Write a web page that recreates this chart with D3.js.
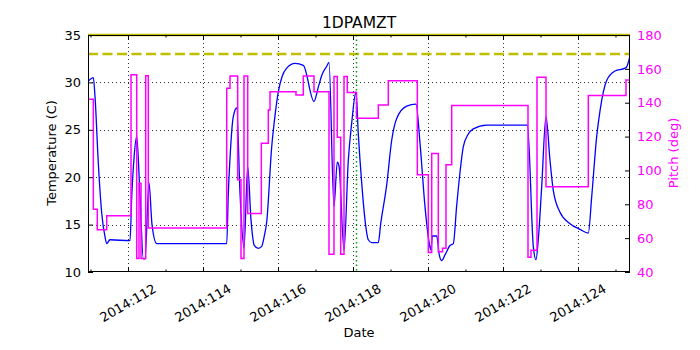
<!DOCTYPE html>
<html><head><meta charset="utf-8">
<script src="https://cdn.jsdelivr.net/npm/d3@7/dist/d3.min.js"></script>
<style>body{margin:0;background:#fff}svg{display:block;font-family:"DejaVu Sans",sans-serif}</style>
</head><body><svg id="c" width="700" height="350"></svg>
<script>
const chartTitle = "1DPAMZT";
const tempDays = [110.933,111.075,111.12,111.208,111.299,111.387,111.432,111.52,112.053,112.1,112.16,112.232,112.32,112.408,112.453,112.56,112.64,112.765,114.632,114.675,114.72,114.808,114.899,114.987,115.093,115.192,115.28,115.368,115.475,115.565,115.635,115.699,115.832,115.92,116.008,116.107,116.232,116.453,116.675,116.96,117.075,117.173,117.299,117.36,117.493,117.581,117.627,117.76,117.875,117.965,118.08,118.141,118.232,118.32,118.408,118.499,118.675,118.739,118.899,119.032,119.165,119.432,119.68,119.787,119.92,120.035,120.08,120.115,120.232,120.301,120.365,120.453,120.587,120.675,120.765,120.853,120.941,121.067,121.208,121.565,122.653,122.808,122.88,122.941,123.032,123.147,123.253,123.341,123.52,123.787,124.053,124.275,124.365,124.499,124.587,124.765,124.987,125.253,125.293,125.387];
const tempValues = [30.1,30.5,28.5,21.5,16.2,13.7,13.0,13.4,13.3,18,22,24.3,18,11.4,11.4,19.4,15,13.0,13.0,18.3,22,26.4,27.3,18.3,12.5,21.1,15.5,12.8,12.5,12.7,13.8,15.3,23.2,26.5,29.0,30.6,31.5,32.0,31.8,28.0,29.5,30.8,31.7,32.1,16.9,21.6,21.2,12.3,21.8,25.7,29.0,24.6,19.4,15.5,13.4,13.1,13.1,15.1,19.2,23.9,26.2,27.5,27.7,23.6,16.9,13.0,12.3,13.8,13.8,11.8,11.2,11.8,12.8,13.0,17,20.5,23.2,24.5,25.1,25.5,25.5,12.7,11.3,13.4,19.0,26.4,21.8,18.6,16.3,15.1,14.5,14.1,17.9,24.3,27.0,30.2,31.2,31.5,31.6,32.8];
const pitchDays = [110.933,111.075,111.181,111.432,112.08,112.232,112.293,112.347,112.472,112.541,114.632,114.72,114.925,115.013,115.093,115.192,115.555,115.741,115.787,116.48,116.675,116.96,117.36,117.493,117.581,117.672,117.76,117.848,118.093,118.675,118.941,119.715,120.008,120.099,120.275,120.387,120.48,120.632,122.667,122.747,122.907,123.147,124.275,125.28,125.387];
const pitchValues = [142,77,65,73.3,156.5,48,92.4,48,156,66,148.5,155.8,94.5,48,155.8,74.5,116,135.7,146.5,144.5,155.8,146.5,50.5,155.5,119.6,50.5,155.5,146,130.8,138.6,153,97.5,51.5,110,52,54,103.4,138.4,48.7,52.8,155,90.4,144.2,153.4,153.4];
const tempLimits = [35, 33];
const markerDay = 118.067;
const xMajorDays = [112,114,116,118,120,122,124];
const xMinorDays = [111,113,115,117,119,121,123,125];
const tempTicks = [10,15,20,25,30,35];
const pitchTicks = [40,60,80,100,120,140,160,180];

const svg = d3.select("#c");
const L=88,R=630,T=35,B=272;
const x = d3.scaleLinear().domain([110.933,125.387]).range([L,R]);
const y = d3.scaleLinear().domain([10,35]).range([B,T]);
const y2 = d3.scaleLinear().domain([40,180]).range([B,T]);

// grid
const g = svg.append("g");
g.selectAll(".vg").data(xMajorDays).enter().append("line")
  .attr("x1",d=>x(d)+0.5).attr("x2",d=>x(d)+0.5).attr("y1",T).attr("y2",B)
  .attr("stroke","#000").attr("stroke-width",0.8).attr("stroke-dasharray","1,3");
g.selectAll(".hg").data(tempTicks.slice(1,-1)).enter().append("line")
  .attr("y1",d=>Math.round(y(d))+0.5).attr("y2",d=>Math.round(y(d))+0.5).attr("x1",L).attr("x2",R)
  .attr("stroke","#000").attr("stroke-width",0.8).attr("stroke-dasharray","1,3");

svg.append("clipPath").attr("id","pc").append("rect").attr("x",L).attr("y",T-2).attr("width",R-L).attr("height",B-T+4);
const plot = svg.append("g").attr("clip-path","url(#pc)");

// limits
plot.append("line").attr("x1",L).attr("x2",R).attr("y1",y(tempLimits[0])).attr("y2",y(tempLimits[0]))
  .attr("stroke","#bfbf00").attr("stroke-width",2.6);
plot.append("line").attr("x1",L).attr("x2",R).attr("y1",y(tempLimits[1])).attr("y2",y(tempLimits[1]))
  .attr("stroke","#bfbf00").attr("stroke-width",2.6).attr("stroke-dasharray","10,4.5");

// temperature
const tData = tempDays.map((d,i)=>[d,tempValues[i]]);
plot.append("path").datum(tData)
  .attr("d",d3.line().x(d=>x(d[0])).y(d=>y(d[1])).curve(d3.curveMonotoneX))
  .attr("fill","none").attr("stroke","#0000ff").attr("stroke-width",1.3);

// marker
plot.append("line").attr("x1",Math.round(x(markerDay))+0.5).attr("x2",Math.round(x(markerDay))+0.5).attr("y1",T).attr("y2",B)
  .attr("stroke","#00a000").attr("stroke-width",1.5).attr("stroke-dasharray","1.5,3");

// pitch
const pData = pitchDays.map((d,i)=>[d,pitchValues[i]]);
plot.append("path").datum(pData)
  .attr("d",d3.line().x(d=>x(d[0])).y(d=>y2(d[1])).curve(d3.curveStepAfter))
  .attr("fill","none").attr("stroke","#ff00ff").attr("stroke-width",1.5);

// frame
svg.append("rect").attr("x",L+0.5).attr("y",T+0.5).attr("width",R-L-1).attr("height",B-T-1)
  .attr("fill","none").attr("stroke","#000").attr("stroke-width",1);

// axes
const ax = svg.append("g").attr("transform",`translate(0,${B})`)
  .call(d3.axisBottom(x).tickValues(xMajorDays).tickSize(-5).tickFormat(()=>""));
ax.select(".domain").remove();
const axm = svg.append("g").attr("transform",`translate(0,${B})`)
  .call(d3.axisBottom(x).tickValues(xMinorDays).tickSize(-2.5).tickFormat(()=>""));
axm.select(".domain").remove();
const axt = svg.append("g").attr("transform",`translate(0,${T})`)
  .call(d3.axisTop(x).tickValues(xMajorDays).tickSize(-5).tickFormat(()=>""));
axt.select(".domain").remove();
const axtm = svg.append("g").attr("transform",`translate(0,${T})`)
  .call(d3.axisTop(x).tickValues(xMinorDays).tickSize(-2.5).tickFormat(()=>""));
axtm.select(".domain").remove();

svg.selectAll(".xl").data(xMajorDays).enter().append("text")
  .attr("transform",d=>`translate(${x(d)},303) rotate(-30)`)
  .attr("text-anchor","middle").attr("dominant-baseline","central")
  .attr("font-size",13).attr("fill","#000").text(d=>"2014:"+d);

const ayl = svg.append("g").attr("transform",`translate(${L},0)`)
  .call(d3.axisLeft(y).tickValues(tempTicks).tickSize(-5).tickPadding(7).tickFormat(d3.format("d")));
ayl.select(".domain").remove();
ayl.selectAll("text").attr("font-size",13).attr("font-family","DejaVu Sans").attr("fill","#000");

const ayr = svg.append("g").attr("transform",`translate(${R},0)`)
  .call(d3.axisRight(y2).tickValues(pitchTicks).tickSize(-5).tickPadding(7).tickFormat(d3.format("d")));
ayr.select(".domain").remove();
ayr.selectAll("text").attr("font-size",13).attr("font-family","DejaVu Sans").attr("fill","#ff00ff");

svg.selectAll(".tick line").attr("stroke","#000");

// labels
svg.append("text").attr("x",359).attr("y",28).attr("text-anchor","middle").attr("font-size",15.5).text(chartTitle);
svg.append("text").attr("x",359).attr("y",337).attr("text-anchor","middle").attr("font-size",13).text("Date");
svg.append("text").attr("transform","translate(56,153) rotate(-90)").attr("text-anchor","middle").attr("font-size",13).text("Temperature (C)");
svg.append("text").attr("transform","translate(678,153) rotate(-90)").attr("text-anchor","middle").attr("font-size",13).attr("fill","#ff00ff").text("Pitch (deg)");
</script></body></html>
